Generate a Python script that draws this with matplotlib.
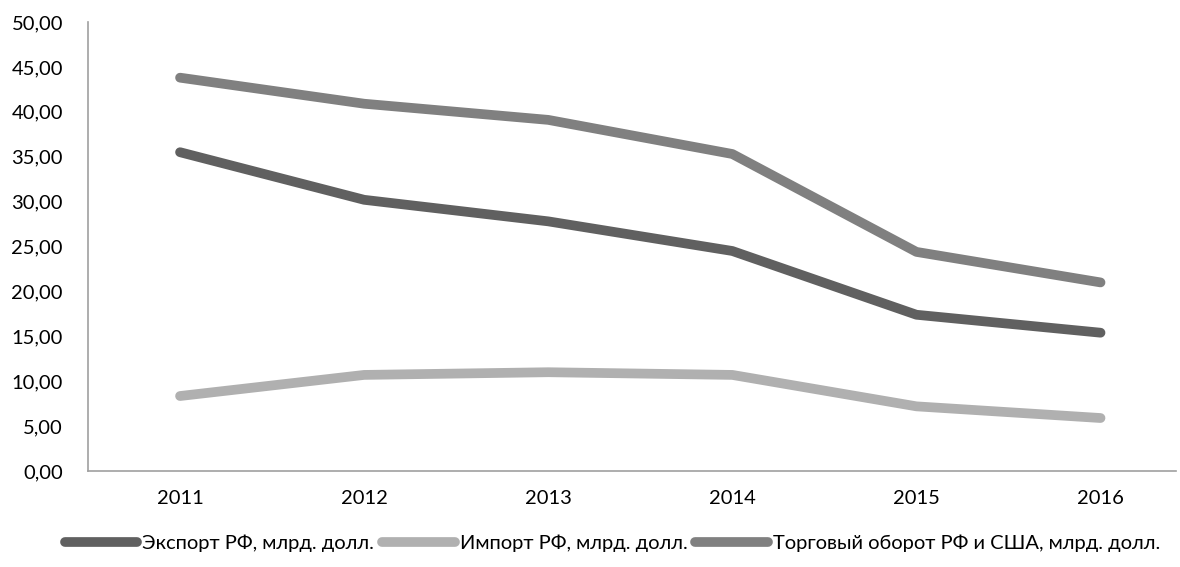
import matplotlib.pyplot as plt

plt.rcParams['font.family'] = ['Lato', 'DejaVu Sans']

# данные
years = ['2011', '2012', '2013', '2014', '2015', '2016']
export = [35.5, 30.2, 27.8, 24.5, 17.4, 15.4]
imports = [8.35, 10.7, 11.0, 10.7, 7.2, 5.9]
trade = [43.8, 40.9, 39.1, 35.3, 24.4, 21.0]

labels = ['Экспорт РФ, млрд. долл.', 'Импорт РФ, млрд. долл.',
          'Торговый оборот РФ и США, млрд. долл.']
colors = ['#606060', '#b0b0b0', '#808080']

fig = plt.figure(figsize=(11.8, 5.67), dpi=100)
ax = fig.add_axes([88 / 1180, 1 - 471 / 567, (1176 - 88) / 1180, (471 - 22) / 567])

x = range(len(years))
for vals, lab, c in zip([export, imports, trade], labels, colors):
    ax.plot(x, vals, color=c, linewidth=7, solid_capstyle='round',
            solid_joinstyle='round', label=lab)

ax.set_xlim(-0.5, 5.41)
ax.set_ylim(0, 50)
ax.set_xticks(list(x))
ax.set_xticklabels(years)
ax.set_yticks(range(0, 51, 5))
ax.set_yticklabels([f'{v},00' for v in range(0, 51, 5)])
ax.tick_params(axis='both', length=0, labelsize=14.5, colors='black')
ax.tick_params(axis='y', pad=18)
ax.tick_params(axis='x', pad=14)

for s in ['top', 'right']:
    ax.spines[s].set_visible(False)
for s in ['left', 'bottom']:
    ax.spines[s].set_color('#a0a0a0')
    ax.spines[s].set_linewidth(1.2)

fig.legend(loc='center', bbox_to_anchor=(0.519, 1 - 543 / 567), ncol=3, frameon=False,
           fontsize=14.5, handlelength=3.6, handletextpad=0.25, columnspacing=0.4)

plt.savefig('out.png', dpi=100)
